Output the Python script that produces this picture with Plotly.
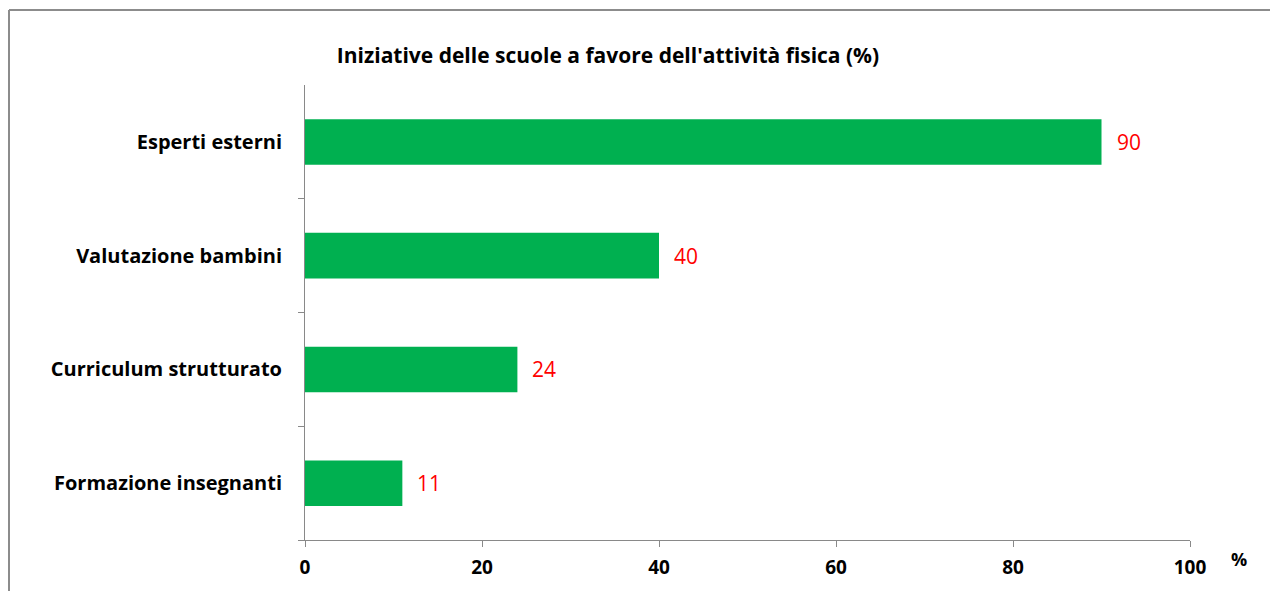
import plotly.graph_objects as go

categories = ["Esperti esterni", "Valutazione bambini", "Curriculum strutturato", "Formazione insegnanti"]
values = [90, 40, 24, 11]
x_ticks = [0, 20, 40, 60, 80, 100]
title_text = "Iniziative delle scuole a favore dell'attività fisica (%)"

FONT = "Open Sans"
AXIS = "#898989"

# page is drawn with an 8px body margin, so figure coords = screen coords - 8
L, T = 297, 77
PLOT_R, PLOT_B = 1182, 532
W, H = 1270, 583
PW, PH = PLOT_R - L, PLOT_B - T

fig = go.Figure()
fig.add_trace(go.Bar(
    x=values, y=categories, orientation="h",
    marker=dict(color="#00B050", line=dict(width=0)),
    width=0.4, hoverinfo="x+y",
))

for c, v in zip(categories, values):
    fig.add_annotation(x=v, y=c, text=str(v), showarrow=False, xanchor="left",
                       xshift=13, font=dict(family=FONT, size=21, color="#FF0000"))

fig.add_annotation(xref="paper", yref="paper", x=(1231 - L) / PW, y=-(19) / PH,
                   text="<b>%</b>", showarrow=False, xanchor="center", yanchor="middle",
                   font=dict(family=FONT, size=18, color="#000000"))

bx0 = (1 - L) / PW
by1 = 1 + (T - 2) / PH
border = dict(color="#8C8C8C", width=2)

fig.update_layout(
    width=W, height=H,
    margin=dict(l=L, r=W - PLOT_R, t=T, b=H - PLOT_B),
    paper_bgcolor="white", plot_bgcolor="white",
    showlegend=False,
    title=dict(text="<b>" + title_text + "</b>", x=600 / W, xanchor="center",
               y=1 - 48 / H, yanchor="middle",
               font=dict(family=FONT, size=21, color="#000000")),
    xaxis=dict(range=[0, 100], tickvals=x_ticks, ticktext=["<b>%d</b>" % t for t in x_ticks],
               showgrid=False, zeroline=False, showline=True, linecolor=AXIS, linewidth=1,
               ticks="outside", ticklen=6, tickcolor=AXIS, ticklabelstandoff=4,
               tickfont=dict(family=FONT, size=19, color="#000000"), fixedrange=True),
    yaxis=dict(categoryorder="array", categoryarray=categories[::-1],
               tickvals=categories, ticktext=["<b>%s</b>" % c for c in categories],
               showgrid=False, zeroline=False, showline=True, linecolor=AXIS, linewidth=1,
               ticks="outside", ticklen=6, tickcolor=AXIS, tickson="boundaries",
               ticklabelstandoff=18,
               tickfont=dict(family=FONT, size=20, color="#000000"), fixedrange=True),
    shapes=[
        dict(type="line", xref="paper", yref="paper", x0=bx0, x1=bx0, y0=-0.3, y1=by1,
             line=border, layer="below"),
        dict(type="line", xref="paper", yref="paper", x0=bx0, x1=1.3, y0=by1, y1=by1,
             line=border, layer="below"),
    ],
)

fig.write_html("out.html")
